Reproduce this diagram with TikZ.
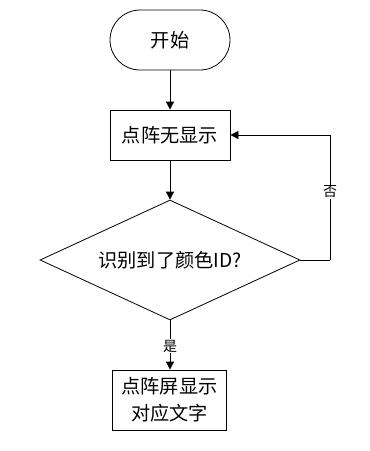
\documentclass[tikz,border=0pt]{standalone}
\usepackage{fontspec}
\setmainfont{Noto Sans CJK SC}
\usetikzlibrary{shapes.geometric,arrows.meta}
\begin{document}
\begin{tikzpicture}[x=0.75pt,y=-0.75pt,
  every node/.style={font=\fontsize{14.4pt}{20pt}\selectfont},
  term/.style={draw,rounded corners=22.5pt,minimum width=90pt,minimum height=45pt,inner sep=0pt},
  proc/.style={draw,minimum width=90pt,minimum height=37.5pt,inner sep=0pt,align=center},
  dec/.style={draw,diamond,aspect=2.17,minimum width=195pt,minimum height=90pt,inner sep=0pt},
  lbl/.style={fill=white,font=\fontsize{10.5pt}{12pt}\selectfont,inner sep=1pt},
  arr/.style={-{Triangle[length=6pt,width=6pt]},line width=0.6pt},
  ln/.style={line width=0.6pt}]
\useasboundingbox (0,0) rectangle (370,451);
\node[term,line width=0.6pt] (start) at (170,40) {开始};
\node[proc,line width=0.6pt] (none) at (170,135) {点阵无显示};
\node[dec,line width=0.6pt] (dec) at (170,260) {识别到了颜色ID?};
\node[proc,line width=0.6pt,minimum width=86pt,minimum height=45pt] (show) at (169.5,400) {点阵屏显示\\对应文字};
\coordinate (c1) at (330,260);
\coordinate (c2) at (330,135);
\draw[arr] (start) -- (none);
\draw[arr] (none) -- (dec);
\draw[arr] (dec.south) -- (show.north -| dec.south);
\draw[ln] (dec.east) -- (c1);
\draw[arr] (c1) -- (c2) -- (none.east);
\node[lbl] (yes) at (170,346) {是};
\node[lbl] (no) at (330,192) {否};
\end{tikzpicture}
\end{document}
